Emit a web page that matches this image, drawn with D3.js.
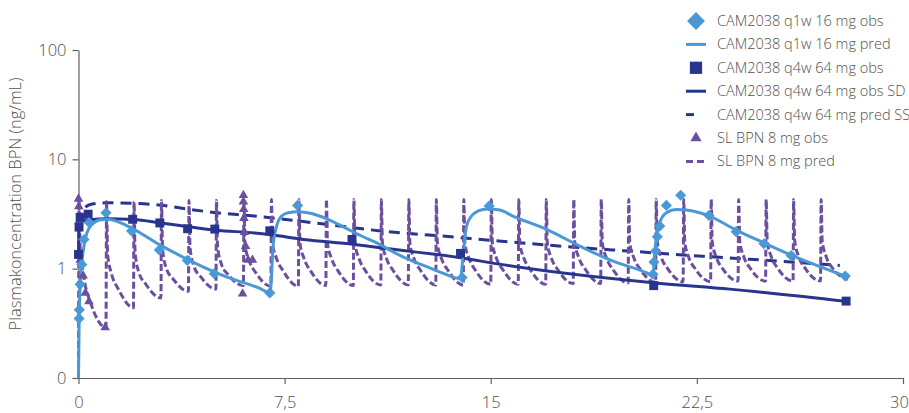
<!DOCTYPE html>
<html>
<head>
<meta charset="utf-8">
<script src="https://cdn.jsdelivr.net/npm/d3@7"></script>
<style>
  body { margin: 0; background: #fff; }
  svg { display: block; }
  text { font-family: "Open Sans", sans-serif; fill: #505050; }
</style>
</head>
<body>
<div id="chart"></div>
<script>
// CAM2038 q1w 16 mg, observed [day, ng/mL]
const q1wObs = [
  [0.02, 0.35], [0.03, 0.42], [0.06, 0.72], [0.12, 1.09], [0.2, 1.85], [0.39, 2.64],
  [1.0, 3.25], [1.93, 2.21], [2.94, 1.48], [3.96, 1.19], [4.94, 0.9], [6.96, 0.6],
  [7.97, 3.79], [13.96, 0.83], [14.94, 3.74],
  [20.9, 0.89], [20.94, 1.15], [21.0, 1.45], [21.06, 1.96], [21.15, 2.45], [21.39, 3.79],
  [21.91, 4.69], [22.94, 3.07], [23.93, 2.18], [24.94, 1.69], [25.93, 1.32], [27.9, 0.855]
];
// CAM2038 q1w 16 mg, predicted
const q1wPred = [
  [0, 0.1], [0.02, 0.3], [0.05, 0.6], [0.1, 1.0], [0.18, 1.5], [0.3, 2.1], [0.5, 2.55],
  [0.8, 2.8], [1.1, 2.82], [1.75, 2.48], [2.96, 1.65], [4.16, 1.15], [5.39, 0.84],
  [6.6, 0.66], [6.97, 0.6],
  [7.03, 0.92], [7.08, 1.61], [7.21, 2.45], [7.39, 3.03], [7.63, 3.25], [7.99, 3.32],
  [8.48, 3.2], [9.08, 2.83], [9.69, 2.37], [10.3, 1.99], [10.96, 1.67], [11.39, 1.45],
  [11.99, 1.22], [12.6, 1.06], [13.2, 0.92], [13.9, 0.81],
  [13.99, 1.3], [14.12, 2.45], [14.3, 3.03], [14.54, 3.37], [14.9, 3.52], [15.33, 3.44],
  [15.8, 3.03], [17.03, 2.29], [18.24, 1.61], [19.45, 1.17], [20.66, 0.92], [20.9, 0.86],
  [20.96, 1.3], [21.03, 1.99], [21.15, 2.64], [21.39, 3.25], [21.75, 3.48], [22.12, 3.44],
  [22.6, 3.25], [22.96, 3.03], [23.93, 2.25], [24.94, 1.72], [25.93, 1.33], [27.9, 0.855]
];
// CAM2038 q4w 64 mg, observed
const q4wObs = [
  [0, 1.35], [0.02, 2.4], [0.06, 2.95], [0.35, 3.15], [1.97, 2.83], [2.96, 2.62],
  [3.97, 2.32], [4.96, 2.3], [6.96, 2.22], [9.95, 1.85], [13.9, 1.38], [20.93, 0.7], [27.93, 0.505]
];
// CAM2038 q4w 64 mg, obs SD curve
const q4wSD = [
  [0, 1.35], [0.02, 2.3], [0.06, 2.6], [0.2, 2.75], [0.5, 2.82], [1, 2.86], [2, 2.82],
  [3, 2.62], [4, 2.42], [5, 2.25], [6.4, 2.12], [7, 2.04], [8.2, 1.85], [10, 1.67],
  [11, 1.55], [13.9, 1.26], [15.3, 1.1], [21, 0.74], [23.7, 0.65], [28, 0.5]
];
// CAM2038 q4w 64 mg, pred SS
const q4wSS = [
  [0, 2.6], [0.08, 3.2], [0.25, 3.65], [0.5, 3.9], [1, 4.0], [2, 3.97], [3, 3.8],
  [4, 3.5], [5, 3.25], [6.4, 3.03], [8, 2.73], [10, 2.37], [11, 2.21], [13.2, 1.99],
  [15.3, 1.79], [18.2, 1.56], [20, 1.45], [22.7, 1.3], [24.4, 1.22], [27.7, 1.07]
];
// SL BPN 8 mg, observed
const slObs = [
  [0.0, 4.35], [0.01, 3.7], [0.02, 2.7], [0.06, 1.2], [0.17, 0.86], [0.25, 0.6], [0.38, 0.5], [0.97, 0.29],
  [5.97, 0.59], [6.0, 4.7], [6.0, 4.1], [6.01, 3.5], [6.02, 2.9], [6.04, 2.15], [6.08, 1.6],
  [6.17, 1.2], [6.33, 1.2]
];
// SL BPN 8 mg, predicted: one row per daily dose, values at these times after the dose
const slDoseDays = [0, 1, 2, 3, 4, 5, 6, 7, 8, 9, 10, 11, 12, 13, 14, 15, 16, 17, 18, 19, 20, 21, 22, 23, 24, 25, 26, 27];
const slOffsets = [0, 0.02, 0.06, 0.2, 0.45];
const slPred = [
  [0.10, 4.2, 1.6, 0.82, 0.48],
  [0.29, 4.1, 1.35, 0.9, 0.65],
  [0.44, 4.1, 1.4, 0.92, 0.72],
  [0.54, 4.2, 1.5, 1.0, 0.8],
  [0.62, 4.2, 1.55, 1.05, 0.84],
  [0.65, 4.2, 1.6, 1.1, 0.88],
  [0.70, 4.2, 1.65, 1.2, 0.92],
  [0.69, 4.3, 1.7, 1.25, 0.95],
  [0.69, 4.3, 1.7, 1.25, 0.95],
  [0.70, 4.3, 1.7, 1.25, 0.95],
  [0.70, 4.3, 1.7, 1.25, 0.95],
  [0.71, 4.3, 1.7, 1.25, 0.96],
  [0.71, 4.3, 1.7, 1.25, 0.96],
  [0.71, 4.3, 1.7, 1.25, 0.96],
  [0.71, 4.3, 1.7, 1.26, 0.96],
  [0.72, 4.3, 1.7, 1.26, 0.97],
  [0.72, 4.3, 1.7, 1.26, 0.97],
  [0.72, 4.3, 1.7, 1.26, 0.97],
  [0.73, 4.3, 1.72, 1.27, 0.98],
  [0.73, 4.3, 1.72, 1.27, 0.98],
  [0.74, 4.3, 1.72, 1.27, 0.98],
  [0.75, 4.3, 1.75, 1.28, 0.99],
  [0.76, 4.3, 1.75, 1.28, 0.99],
  [0.76, 4.3, 1.75, 1.28, 0.99],
  [0.77, 4.3, 1.78, 1.3, 1.0],
  [0.77, 4.3, 1.78, 1.3, 1.0],
  [0.77, 4.3, 1.8, 1.3, 1.0],
  [0.77, 4.3, 1.8, 1.3, 1.0]
];
const slPredEnd = [28, 0.8];

const xTicks = [0, 7.5, 15, 22.5, 30];
const yTicks = [0.1, 1, 10, 100];

const legendItems = [
  { label: "CAM2038 q1w 16 mg obs", kind: "diamond", color: "#4a98d6" },
  { label: "CAM2038 q1w 16 mg pred", kind: "line", color: "#4a98d6", dash: null },
  { label: "CAM2038 q4w 64 mg obs", kind: "square", color: "#28358e" },
  { label: "CAM2038 q4w 64 mg obs SD", kind: "line", color: "#28358e", dash: null },
  { label: "CAM2038 q4w 64 mg pred SS", kind: "line", color: "#28358e", dash: "8,12" },
  { label: "SL BPN 8 mg obs", kind: "triangle", color: "#6c4f9e" },
  { label: "SL BPN 8 mg pred", kind: "line", color: "#6c4f9e", dash: "7,4" }
];

const width = 909, height = 413;
const svg = d3.select("#chart").append("svg").attr("width", width).attr("height", height);

const x = d3.scaleLinear().domain([0, 30]).range([78.5, 903]);
const y = d3.scaleLog().domain([0.1, 100]).range([378, 50]);

const blue = "#4a98d6", navy = "#28358e", purple = "#6c4f9e";

// axes
const yAxis = svg.append("g")
  .attr("transform", "translate(" + x(0) + ",0)")
  .call(d3.axisLeft(y).tickValues(yTicks).tickSize(6).tickSizeOuter(0).tickPadding(6)
    .tickFormat(d => (d === 0.1 ? "0" : d)));
const xAxis = svg.append("g")
  .attr("transform", "translate(0," + y(0.1) + ")")
  .call(d3.axisBottom(x).tickValues(xTicks).tickSize(6).tickSizeOuter(0).tickPadding(12)
    .tickFormat(d => String(d).replace(".", ",")));
[yAxis, xAxis].forEach(g => {
  g.selectAll("path, line").attr("stroke", "#606060").attr("stroke-width", 1.2);
  g.selectAll("text").attr("font-size", 16.5).attr("font-weight", 300).attr("fill", "#505050")
    .style("font-family", '"Open Sans", sans-serif');
});
// keep the last x label inside the window
xAxis.selectAll(".tick text").filter(d => d === 30).attr("dx", -4);

svg.append("text")
  .attr("transform", "translate(21,204) rotate(-90)")
  .attr("text-anchor", "middle")
  .attr("font-size", 16.5)
  .attr("font-weight", 300)
  .text("Plasmakoncentration BPN (ng/mL)");

const line = d3.line().x(d => x(d[0])).y(d => y(d[1])).curve(d3.curveMonotoneX);

// SL pred points from the per-dose rows
const slPredPts = [];
slDoseDays.forEach((day, i) => {
  slOffsets.forEach((off, j) => slPredPts.push([day + off, slPred[i][j]]));
});
slPredPts.push(slPredEnd);

svg.append("path").datum(q4wSS)
  .attr("d", line).attr("fill", "none").attr("stroke", navy)
  .attr("stroke-width", 3).attr("stroke-dasharray", "11,7");

svg.append("path").datum(slPredPts)
  .attr("d", line).attr("fill", "none").attr("stroke", purple)
  .attr("stroke-width", 3).attr("stroke-dasharray", "7,3");

svg.append("path").datum(q4wSD)
  .attr("d", line).attr("fill", "none").attr("stroke", navy).attr("stroke-width", 3);

svg.append("path").datum(q1wPred)
  .attr("d", line).attr("fill", "none").attr("stroke", blue).attr("stroke-width", 3);

// markers
svg.append("g").selectAll("path").data(slObs).join("path")
  .attr("transform", d => "translate(" + x(d[0]) + "," + y(d[1]) + ")")
  .attr("d", d3.symbol().type(d3.symbolTriangle).size(40))
  .attr("fill", purple);

svg.append("g").selectAll("path").data(q4wObs).join("path")
  .attr("transform", d => "translate(" + x(d[0]) + "," + y(d[1]) + ")")
  .attr("d", d3.symbol().type(d3.symbolSquare).size(80))
  .attr("fill", navy);

svg.append("g").selectAll("path").data(q1wObs).join("path")
  .attr("transform", d => "translate(" + x(d[0]) + "," + y(d[1]) + ") rotate(45)")
  .attr("d", d3.symbol().type(d3.symbolSquare).size(62))
  .attr("fill", blue);

// legend
const legend = svg.append("g");
legendItems.forEach((item, i) => {
  const ly = 21 + i * 23.4;
  const g = legend.append("g").attr("transform", "translate(0," + ly + ")");
  if (item.kind === "line") {
    g.append("line").attr("x1", 686).attr("x2", 706).attr("y1", 0).attr("y2", 0)
      .attr("stroke", item.color).attr("stroke-width", 3)
      .attr("stroke-dasharray", item.dash);
  } else {
    const type = item.kind === "triangle" ? d3.symbolTriangle : d3.symbolSquare;
    const size = item.kind === "diamond" ? 160 : item.kind === "square" ? 150 : 55;
    g.append("path")
      .attr("transform", "translate(696,0)" + (item.kind === "diamond" ? " rotate(45)" : ""))
      .attr("d", d3.symbol().type(type).size(size))
      .attr("fill", item.color);
  }
  g.append("text").attr("x", 717).attr("y", 0).attr("dy", "0.35em")
    .attr("font-size", 14.5).attr("font-weight", 300)
    .text(item.label);
});
</script>
</body>
</html>
